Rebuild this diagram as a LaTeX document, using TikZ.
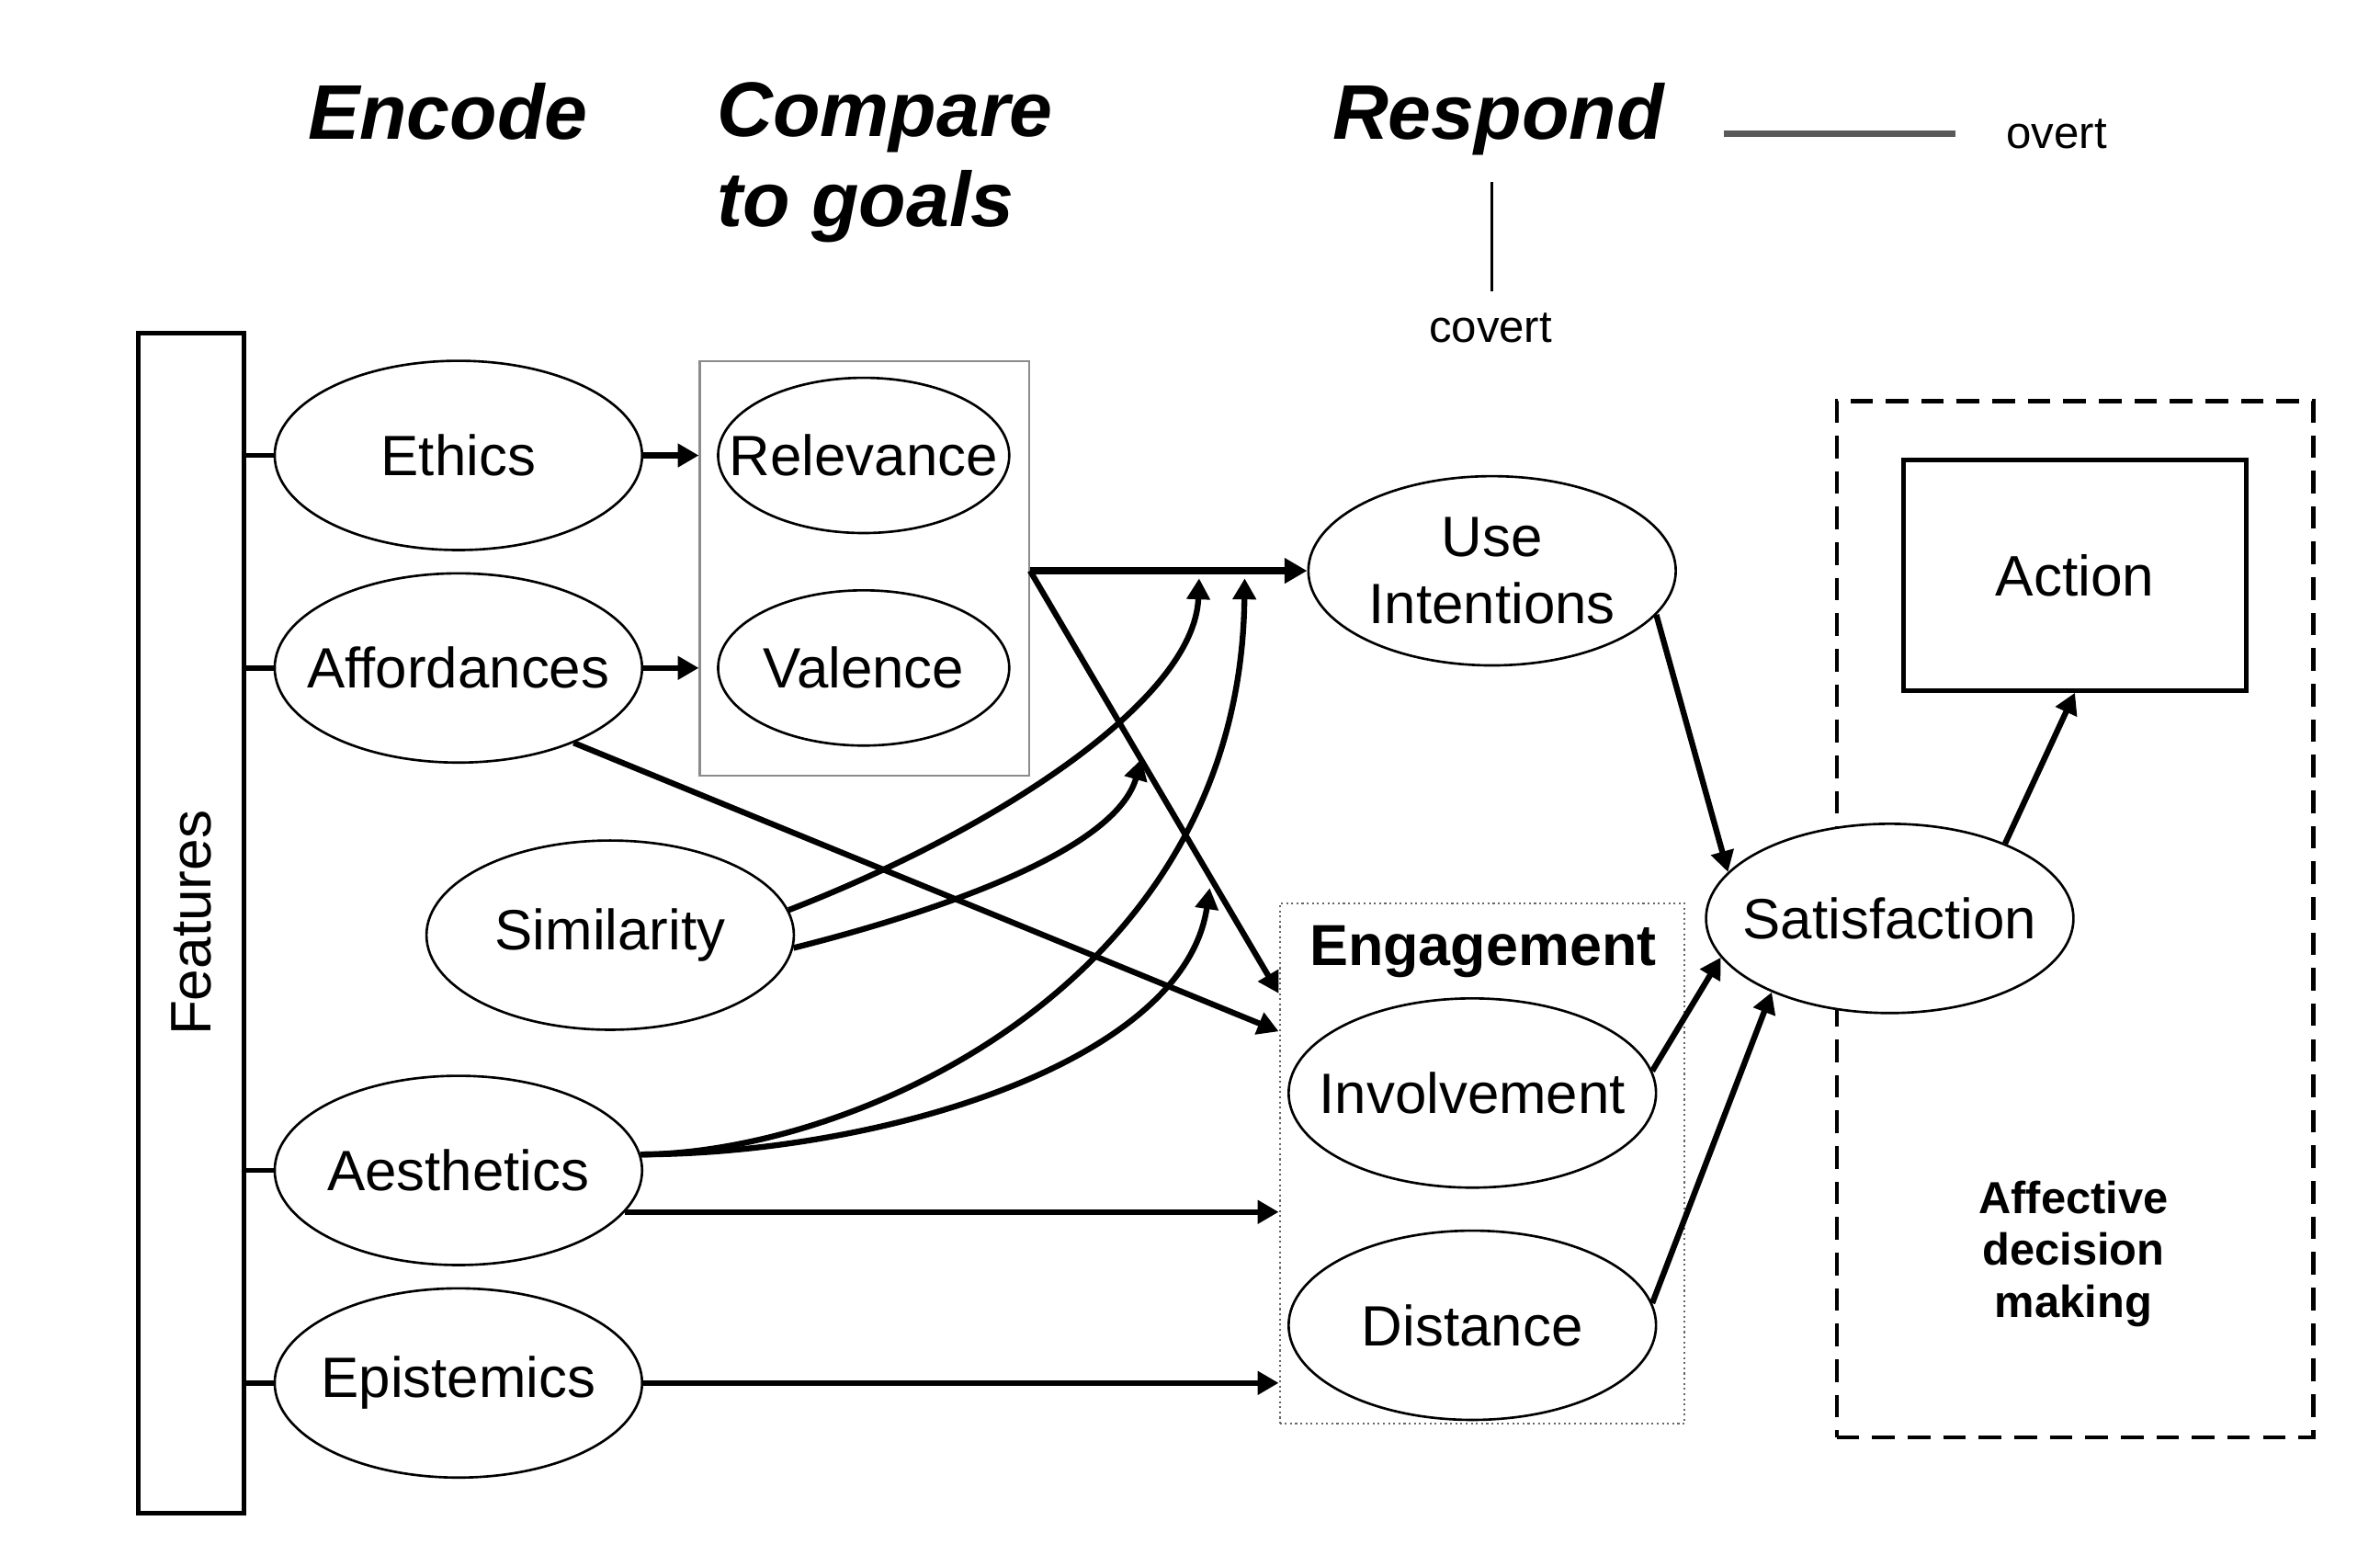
\documentclass[tikz,border=0pt]{standalone}
\usepackage{fontspec}
\setmainfont{Liberation Sans}
\usetikzlibrary{shapes.geometric,arrows.meta}
\newcommand{\fixw}[1]{\makebox[0pt][c]{#1}}
\begin{document}
\begin{tikzpicture}[x=0.01652cm,y=-0.01652cm,
  oval/.style={ellipse,draw,line width=0.75pt,fill=white,inner sep=0pt,minimum width=4.0cm,minimum height=2.06cm,font=\fontsize{17.6}{20.7}\selectfont},
  small oval/.style={oval,minimum width=3.17cm,minimum height=1.69cm},
  arr/.style={line width=1.8pt,-{Triangle[length=6.5pt,width=7pt]}},
  tick/.style={line width=1.6pt},
  hdr/.style={font=\fontsize{24}{27.7}\selectfont\bfseries\itshape,inner sep=0pt},
  lbl/.style={font=\fontsize{14}{16}\selectfont,inner sep=0pt},
]
\useasboundingbox (0,0) rectangle (1568,1024);

% headers
\node[hdr,anchor=base] (enc) at (295,92) {Encode};
\node[hdr,anchor=base west] (cmp1) at (472,90) {Compare};
\node[hdr,anchor=base west] (cmp2) at (472,149) {to goals};
\node[hdr,anchor=base] (resp) at (987,92) {Respond};
\node[lbl] (ovt) at (1355,88) {overt};
\node[lbl] (cvt) at (982,216) {covert};
\coordinate (o1) at (1136,88);
\coordinate (o2) at (1288,88);
\coordinate (c1) at (983,120);
\coordinate (c2) at (983,192);
\draw[line width=2pt,black!65] (o1) -- (o2);
\draw[line width=0.9pt] (c1) -- (c2);

% features bar
\node[draw,line width=1.4pt,rotate=90,minimum width=12.85cm,minimum height=1.156cm,inner sep=0pt,font=\fontsize{17.7}{20}\selectfont] (feat) at (126,608) {Features};

% group boxes
\node[draw=black!45,line width=0.6pt,minimum width=3.585cm,minimum height=4.51cm,inner sep=0pt] (cmp) at (569.5,374.5) {};
\node[draw=black!60,densely dotted,line width=0.6pt,minimum width=4.41cm,minimum height=5.667cm,inner sep=0pt] (eng) at (976.5,766.5) {};
\node[draw,dashed,dash pattern=on 7pt off 4pt,line width=1.3pt,minimum width=5.187cm,minimum height=11.283cm,inner sep=0pt] (adm) at (1367,605.5) {};

% encode ellipses
\node[oval] (eth) at (302,300) {\fixw{Ethics}};
\node[oval] (aff) at (302,440) {\fixw{Affordances}};
\node[oval] (sim) at (402,616) {\fixw{Similarity}};
\node[oval] (aes) at (302,771) {\fixw{Aesthetics}};
\node[oval] (epi) at (302,911) {\fixw{Epistemics}};

% compare ellipses
\node[small oval] (rel) at (569,300) {\fixw{Relevance}};
\node[small oval] (val) at (569,440) {\fixw{Valence}};

% respond
\node[oval,align=center] (use) at (983,376) {\fixw{Use}\\\fixw{Intentions}};
\node[font=\fontsize{17.9}{20}\selectfont\bfseries,inner sep=0pt] (engt) at (977,627) {Engagement};
\node[oval] (inv) at (970,720) {\fixw{Involvement}};
\node[oval] (dist) at (970,873) {\fixw{Distance}};
\node[oval] (sat) at (1245,605) {\fixw{Satisfaction}};
\node[draw,line width=1.3pt,minimum width=3.734cm,minimum height=2.511cm,inner sep=0pt,font=\fontsize{17.7}{20}\selectfont] (act) at (1367,379) {Action};
\node[align=center,font=\fontsize{13.9}{16}\selectfont\bfseries,inner sep=0pt] (afft) at (1366,826) {Affective\\decision\\making};

% ticks from features bar
\foreach \n in {eth,aff,aes,epi}
  \draw[tick] (feat.south |- \n.west) -- (\n.west);

% encode -> compare
\draw[arr] (eth.east) -- (eth.east -| cmp.west);
\draw[arr] (aff.east) -- (aff.east -| cmp.west);

% compare -> respond
\coordinate (j) at (cmp.east |- use.west);
\draw[line width=2.2pt,-{Triangle[length=7pt,width=7.5pt]}] (j) -- (use.west);
\path (eng.north west) ++(0,60) coordinate (e1);
\path (eng.north west) ++(0,85) coordinate (e2);
\draw[arr] (j) -- (e1);
\draw[arr] (aff.-33) -- (e2);
\draw[arr] (aes.-14) -- (aes.-14 -| eng.west);
\draw[arr] (epi.east) -- (epi.east -| eng.west);

% curves
\coordinate (t1) at (790,381);
\coordinate (t2) at (752,500);
\coordinate (t3) at (820,381);
\coordinate (t4) at (797,585);
\draw[arr] (sim.8) .. controls (660,545) and (787,460) .. (t1);
\draw[arr] (sim.-4) .. controls (620,600) and (735,560) .. (t2);
\draw[arr] (aes.5) .. controls (560,760) and (817,650) .. (t3);
\draw[arr] (aes.5) .. controls (580,760) and (780,700) .. (t4);

% to satisfaction and action
\draw[arr] (use.-15) -- (sat.164);
\draw[arr] (inv.7) -- (sat.193);
\draw[arr] (dist.7) -- (sat.212);
\draw[arr] (sat.33) -- (act.south);
\end{tikzpicture}
\end{document}
